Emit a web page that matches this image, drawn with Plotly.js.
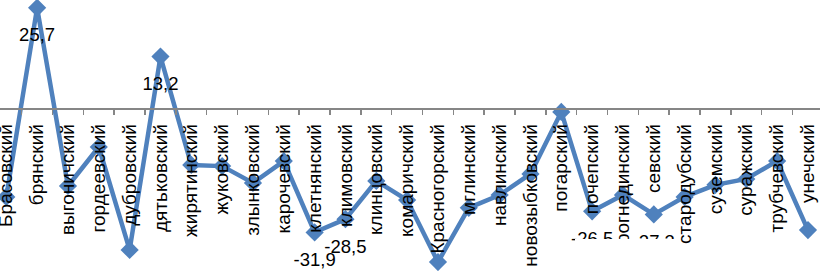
<!DOCTYPE html>
<html>
<head>
<meta charset="utf-8">
<script src="https://cdn.plot.ly/plotly-3.0.1.min.js"></script>
<style>html,body{margin:0;padding:0;background:#fff;}#chart{width:820px;height:271px;}</style>
</head>
<body>
<div id="chart"></div>
<script>
const categories = ["Брасовский","брянский","выгоничский","гордеевский","дубровский","дятьковский","жирятинский","жуковский","злынковский","карочевский","клетнянский","климовский","клинцовский","комаричский","Красногорский","мглинский","навлинский","новозыбковский","погарский","почепский","рогнединский","севский","стародубский","суземский","суражский","трубчевский","унечский"];
const values = [-22.8,25.7,-20.0,-10.0,-36.4,13.2,-14.6,-14.9,-19.2,-13.6,-31.9,-28.5,-18.7,-23.6,-39.5,-25.6,-22.3,-16.9,-1.0,-26.5,-22.3,-27.3,-22.8,-19.7,-18.2,-13.6,-31.3];
const labelled = ["брянский","дятьковский","клетнянский","климовский","почепский","севский"];

const labels = categories.map((c,i)=> labelled.includes(c) ? values[i].toFixed(1).replace('.',',') : '');
const yRange = [-41.8, 27.7];
const zeroPos = (0 - yRange[0])/(yRange[1]-yRange[0]);
const blue = '#4F81BD';
const font = 'Liberation Sans, Arial, sans-serif';

const traces = [
  {x:categories, y:values, type:'scatter', mode:'lines+markers',
   line:{color:blue, width:4.5}, marker:{symbol:'diamond', size:14, color:blue},
   hoverinfo:'skip', cliponaxis:false},
  {x:categories, y:values, type:'scatter', mode:'markers+text', text:labels,
   textposition:'bottom center', textfont:{family:font, size:18.5, color:'#000'},
   marker:{size:30, color:'rgba(0,0,0,0)'}, hoverinfo:'skip', cliponaxis:false}
];
const layout = {
  width:820, height:271, margin:{l:0,r:0,t:0,b:0},
  paper_bgcolor:'#fff', plot_bgcolor:'rgba(0,0,0,0)', showlegend:false,
  xaxis:{type:'category', range:[-0.204, 26.39], anchor:'free', position:zeroPos,
    showline:true, linecolor:'#868686', linewidth:1.5, showgrid:false, zeroline:false,
    ticks:'outside', ticklen:5, tickcolor:'#868686', tickwidth:1.5, tickson:'boundaries',
    tickangle:-90, tickfont:{family:font, size:19, color:'#000'}, ticklabelstandoff:7},
  yaxis:{range:yRange, visible:false, showgrid:false, zeroline:false},
  shapes:[{type:'rect', xref:'paper', yref:'paper', layer:'above',
    x0:575/820, x1:676/820, y0:0, y1:(271-239)/271, fillcolor:'#fff', line:{width:0}}]
};
Plotly.newPlot('chart', traces, layout, {staticPlot:true, displayModeBar:false});
</script>
</body>
</html>
